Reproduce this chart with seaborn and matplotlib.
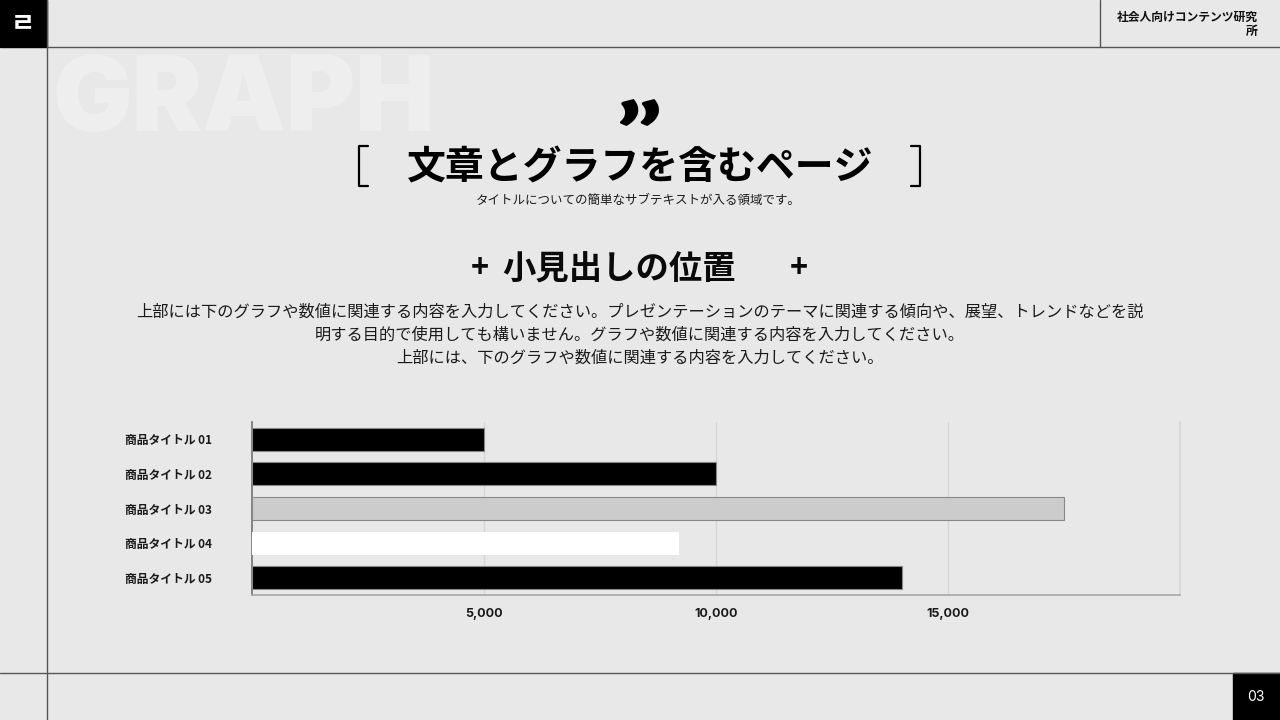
import matplotlib.pyplot as plt
import seaborn as sns
import pandas as pd
from matplotlib.lines import Line2D
from matplotlib.patches import Rectangle, PathPatch
from matplotlib.textpath import TextPath
from matplotlib.font_manager import FontProperties
from matplotlib.path import Path

# データ
products = ['商品タイトル 01', '商品タイトル 02', '商品タイトル 03', '商品タイトル 04', '商品タイトル 05']
sales = [5000, 10000, 17500, 9200, 14000]
bar_colors = ['#000000', '#000000', '#cccccc', '#ffffff', '#000000']
tick_values = [5000, 10000, 15000]

title = '文章とグラフを含むページ'
subtitle = 'タイトルについての簡単なサブテキストが入る領域です。'
heading = '小見出しの位置'
body = ('上部には下のグラフや数値に関連する内容を入力してください。プレゼンテーションのテーマに関連する傾向や、展望、トレンドなどを説\n'
        '明する目的で使用しても構いません。グラフや数値に関連する内容を入力してください。\n'
        '上部には、下のグラフや数値に関連する内容を入力してください。')

sns.set_theme(style='white')
plt.rcParams['font.family'] = ['Noto Sans CJK JP', 'DejaVu Sans']

bg = '#e8e8e8'
fig = plt.figure(figsize=(12.8, 7.2), dpi=100, facecolor=bg)

def px(x, y):
    # ピクセル座標 -> figure座標
    return x / 1280, 1 - y / 720

def poly(points, **kw):
    xs = [p[0] / 1280 for p in points]
    ys = [1 - p[1] / 720 for p in points]
    fig.add_artist(Line2D(xs, ys, **kw))

# 枠線
for seg in [[(47, 47), (1280, 47)], [(47, 0), (47, 720)], [(0, 673), (1280, 673)], [(1100, 0), (1100, 47)]]:
    poly(seg, color='#555555', lw=1)

# 左上のロゴ
fig.add_artist(Rectangle(px(0, 47), 47 / 1280, 47 / 720, color='black'))
fig.text(*px(23, 24), 'ㄹ', color='white', fontsize=19, fontweight='bold', ha='center', va='center')

# 右下のページ番号
fig.add_artist(Rectangle(px(1233, 720), 47 / 1280, 47 / 720, color='black'))
fig.text(*px(1256, 697), '03', color='white', fontsize=10, ha='center', va='center', family='Inter')

# 右上
fig.text(*px(1258, 24), '社会人向けコンテンツ研究\n所', fontsize=8.5, fontweight='bold',
         ha='right', va='center', linespacing=1.1, color='#111111')

# 背景の GRAPH
fig.text(*px(52, 104), 'GRAPH', fontsize=76, fontweight='black', family='Inter',
         color='#f0f0f0', ha='left', va='center', alpha=0.85)

# 引用符アイコン（グリフをパスとして描く）
qp = TextPath((0, 0), '\u201d', size=100, prop=FontProperties(family='Lato', weight='black'))
ext = qp.get_extents()
v = qp.vertices.copy()
bx0, by0 = px(620, 126)
bx1, by1 = px(659, 99)
v[:, 0] = bx0 + (v[:, 0] - ext.x0) / ext.width * (bx1 - bx0)
v[:, 1] = by0 + (v[:, 1] - ext.y0) / ext.height * (by1 - by0)
fig.add_artist(PathPatch(Path(v, qp.codes), facecolor='black', edgecolor='none',
                         transform=fig.transFigure))

# 角括弧
poly([(368, 146), (359, 146), (359, 186), (368, 186)], color='black', lw=1.6)
poly([(911, 146), (920, 146), (920, 186), (911, 186)], color='black', lw=1.6)

# 見出し
fig.text(*px(640, 168), title, fontsize=28, fontweight='bold', ha='center', va='center', color='black')
fig.text(*px(638, 200), subtitle, fontsize=9, ha='center', va='center', color='#1a1a1a')

fig.text(*px(480, 268), '+', fontsize=22, fontweight='bold', ha='center', va='center', color='#0a0a0a')
fig.text(*px(619, 270), heading, fontsize=24, fontweight='bold', ha='center', va='center', color='#0a0a0a')
fig.text(*px(799, 268), '+', fontsize=22, fontweight='bold', ha='center', va='center', color='#0a0a0a')

fig.text(*px(640, 335), body, fontsize=11.7, ha='center', va='center', linespacing=1.45, color='#1a1a1a')

# グラフ
ax = fig.add_axes([252 / 1280, 1 - 595 / 720, 928 / 1280, 173 / 720])
ax.set_facecolor(bg)
df = pd.DataFrame({'product': products, 'sales': sales})
sns.barplot(data=df, x='sales', y='product', hue='product', palette=bar_colors,
            legend=False, width=0.66, ax=ax, zorder=3, saturation=1)
for patch, col in zip(ax.patches, bar_colors):
    if col == '#ffffff':
        patch.set_edgecolor('none')
    else:
        patch.set_edgecolor('#888888')
        patch.set_linewidth(0.8)

ax.set_xlim(0, 20000)
ax.set_ylim(4.5, -0.5)
ax.set_xticks(tick_values)
ax.set_xticklabels([f'{v:,}' for v in tick_values], fontsize=9, fontweight='bold',
                   family='Inter', color='#1a1a1a')
ax.tick_params(axis='y', labelsize=8.5, length=0, pad=29)
for lab in ax.get_yticklabels():
    lab.set_fontweight('bold')
    lab.set_color('#1a1a1a')
ax.tick_params(axis='x', length=0, pad=9)
ax.set_xlabel('')
ax.set_ylabel('')
ax.grid(axis='x', color='#d6d6d6', lw=1, zorder=0)
ax.grid(axis='y', visible=False)
ax.spines['top'].set_visible(False)
ax.spines['right'].set_color('#d6d6d6')
ax.spines['left'].set_color('#777777')
ax.spines['bottom'].set_color('#aaaaaa')

fig.savefig('out.png', dpi=100, facecolor=bg)
